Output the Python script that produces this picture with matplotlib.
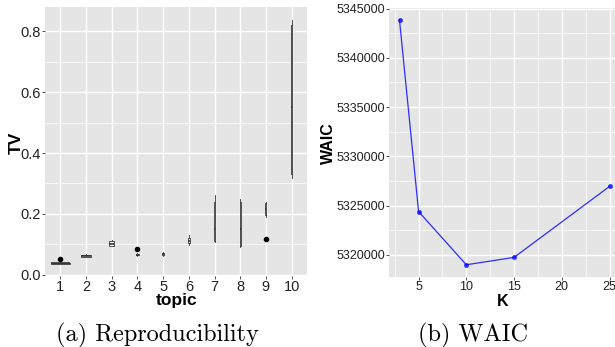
import matplotlib
matplotlib.use("Agg")
import matplotlib.pyplot as plt
from matplotlib.ticker import MultipleLocator, FormatStrFormatter

# ---- panel (a): TV per topic, boxplot summaries ----
topics = [1, 2, 3, 4, 5, 6, 7, 8, 9, 10]
tv_whislo = [0.035, 0.059, 0.093, 0.062, 0.062, 0.098, 0.109, 0.090, 0.191, 0.317]
tv_q1 = [0.036, 0.060, 0.096, 0.064, 0.064, 0.104, 0.112, 0.095, 0.195, 0.330]
tv_med = [0.038, 0.063, 0.100, 0.066, 0.068, 0.110, 0.150, 0.150, 0.215, 0.550]
tv_q3 = [0.040, 0.066, 0.110, 0.069, 0.073, 0.120, 0.240, 0.240, 0.235, 0.820]
tv_whishi = [0.041, 0.067, 0.115, 0.070, 0.076, 0.131, 0.262, 0.248, 0.240, 0.836]
tv_fliers = [[0.051], [], [], [0.086], [], [], [], [], [0.117], []]

# ---- panel (b): WAIC vs K ----
k_values = [3, 5, 10, 15, 25]
waic = [5343820, 5324400, 5319000, 5319750, 5326950]

box_widths = [0.75, 0.4, 0.18, 0.13, 0.1, 0.08, 0.06, 0.05, 0.04, 0.02]

PANEL_BG = "#E5E5E5"
DARK = "#333333"


def gg_style(ax, tick_size):
    ax.set_facecolor(PANEL_BG)
    for s in ax.spines.values():
        s.set_visible(False)
    ax.grid(True, which="major", color="white", lw=1.0)
    ax.grid(True, which="minor", color="white", lw=0.5)
    ax.set_axisbelow(True)
    ax.tick_params(which="major", length=2, width=0.6, color=DARK,
                   labelsize=tick_size, labelcolor="#222222", pad=0.8)
    ax.tick_params(which="minor", length=0)


def place_labels(ax, xy_x, xy_y):
    # centre-anchored axis titles, positions in axes coords
    ax.xaxis.label.set_va("center")
    ax.yaxis.label.set_va("center")
    ax.xaxis.set_label_coords(*xy_x)
    ax.yaxis.set_label_coords(*xy_y)


fig = plt.figure(figsize=(6.15, 3.47), dpi=100)
plt.rcParams["font.family"] = ["Liberation Sans", "DejaVu Sans"]

# (a)
ax1 = fig.add_axes([45 / 615, 71 / 347, 262 / 615, 269 / 347])
gg_style(ax1, 10.5)
stats = []
for i in range(len(topics)):
    stats.append(dict(whislo=tv_whislo[i], q1=tv_q1[i], med=tv_med[i],
                      q3=tv_q3[i], whishi=tv_whishi[i], fliers=tv_fliers[i]))
ax1.bxp(stats, positions=topics, widths=box_widths, patch_artist=True,
        showcaps=False,
        boxprops=dict(facecolor="white", edgecolor=DARK, lw=0.6),
        medianprops=dict(color=DARK, lw=1.2),
        whiskerprops=dict(color=DARK, lw=0.6),
        flierprops=dict(marker="o", markerfacecolor="black",
                        markeredgecolor="black", markersize=3))
ax1.set_xlim(0.4, 10.6)
ax1.set_ylim(-0.004, 0.88)
ax1.set_xticks(topics)
ax1.set_xticklabels([str(t) for t in topics])
ax1.yaxis.set_major_locator(MultipleLocator(0.2))
ax1.yaxis.set_minor_locator(MultipleLocator(0.1))
ax1.yaxis.set_major_formatter(FormatStrFormatter("%.1f"))
ax1.set_xlabel("topic", fontsize=12.5, fontweight="bold")
ax1.set_ylabel("TV", fontsize=12.5, fontweight="bold")
place_labels(ax1, (0.504, -0.092), (-0.11, 0.494))

# (b)
ax2 = fig.add_axes([389 / 615, 70 / 347, 231 / 615, 269 / 347])
gg_style(ax2, 9)
ax2.plot(k_values, waic, color="#0000FF", lw=0.9, marker="o", markersize=3.5,
         alpha=0.8, markeredgewidth=0)
ax2.set_xlim(1.9, 26.1)
ax2.set_ylim(5317759, 5345059)
ax2.xaxis.set_major_locator(MultipleLocator(5))
ax2.xaxis.set_minor_locator(MultipleLocator(2.5))
ax2.yaxis.set_major_locator(MultipleLocator(5000))
ax2.yaxis.set_minor_locator(MultipleLocator(2500))
ax2.yaxis.set_major_formatter(FormatStrFormatter("%d"))
ax2.set_xlabel("K", fontsize=11.5, fontweight="bold")
ax2.set_ylabel("WAIC", fontsize=11.5, fontweight="bold")
place_labels(ax2, (0.494, -0.092), (-0.262, 0.498))

# captions (LaTeX subfigure style)
fig.text(157 / 615, 1 - 341 / 347, "(a) Reproducibility", family="cmr10",
         fontsize=17.5, ha="center", va="baseline")
fig.text(473 / 615, 1 - 341 / 347, "(b) WAIC", family="cmr10",
         fontsize=17.5, ha="center", va="baseline")

fig.savefig("out.png", dpi=100)
